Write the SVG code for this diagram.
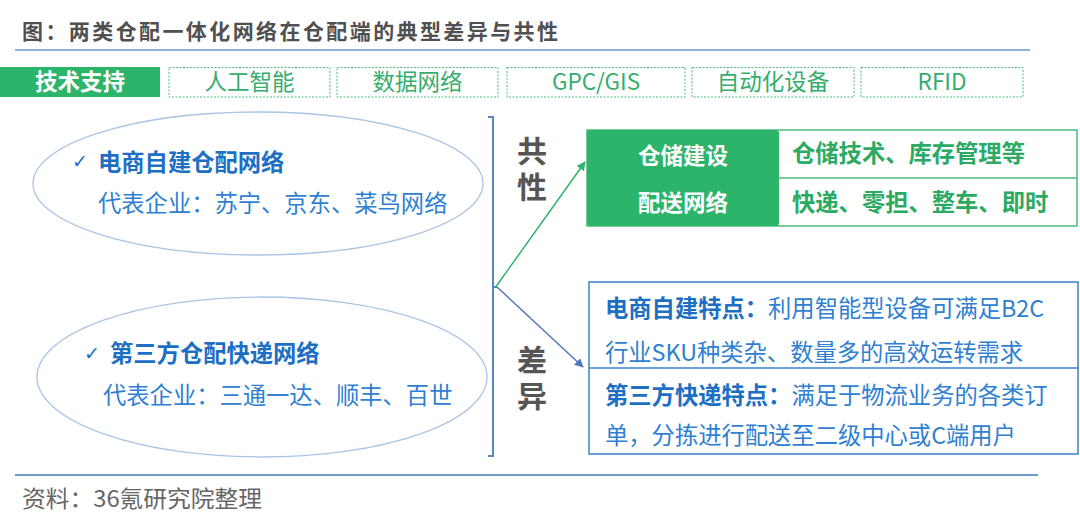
<svg xmlns="http://www.w3.org/2000/svg" width="1080" height="527" viewBox="0 0 1080 527">
<defs>
<style>
text{font-family:"Noto Sans CJK SC","Noto Sans",sans-serif;}
.title{font-size:21px;font-weight:bold;fill:#505050;}
.tech{font-size:22.5px;fill:#35ad6c;text-anchor:middle;}
.dash{fill:#fff;stroke:#4dba7f;stroke-width:1;stroke-dasharray:2 1.5;}
.ell{fill:none;stroke:#a9c5e6;stroke-width:1.3;}
.hb{font-size:23.3px;font-weight:bold;fill:#1d6fc4;}
.hn{font-size:23.3px;fill:#2f7fd2;}
.chk{font-family:"DejaVu Sans",sans-serif;font-size:19px;font-weight:bold;fill:#1d6fc4;}
.big{font-size:30px;font-weight:bold;fill:#555;writing-mode:vertical-rl;letter-spacing:6px;}
.wt{font-size:22.5px;font-weight:bold;fill:#fff;text-anchor:middle;}
.gt{font-size:23.3px;font-weight:bold;fill:#2aaa62;}
.line{stroke-width:1.5;fill:none;}
</style>
<marker id="ag" viewBox="0 0 10 10" refX="9" refY="5" markerWidth="9" markerHeight="9" markerUnits="userSpaceOnUse" orient="auto"><path d="M0,0 L10,5 L0,10 z" fill="#2fb36b"/></marker>
<marker id="ab" viewBox="0 0 10 10" refX="9" refY="5" markerWidth="9" markerHeight="9" markerUnits="userSpaceOnUse" orient="auto"><path d="M0,0 L10,5 L0,10 z" fill="#5577bb"/></marker>
</defs>
<rect width="1080" height="527" fill="#fff"/>

<g id="title">
<text class="title" x="22" y="39" textLength="536" lengthAdjust="spacing">图：两类仓配一体化网络在仓配端的典型差异与共性</text>
<line x1="15" y1="50" x2="1030" y2="50" stroke="#6a9bc9" stroke-width="1.5"/>
</g>

<g id="tech-support">
<rect x="0" y="67" width="160" height="30" fill="#2db46b"/>
<text x="80" y="90" text-anchor="middle" style="font-size:22.5px;font-weight:bold;fill:#fff">技术支持</text>
</g>
<g id="tech-ai"><rect class="dash" x="169" y="67.5" width="161" height="29.5"/><text class="tech" x="249.5" y="90">人工智能</text></g>
<g id="tech-data"><rect class="dash" x="337" y="67.5" width="161" height="29.5"/><text class="tech" x="417.5" y="90">数据网络</text></g>
<g id="tech-gis"><rect class="dash" x="507" y="67.5" width="178" height="29.5"/><text class="tech" x="596" y="90">GPC/GIS</text></g>
<g id="tech-auto"><rect class="dash" x="692" y="67.5" width="162" height="29.5"/><text class="tech" x="773" y="90">自动化设备</text></g>
<g id="tech-rfid"><rect class="dash" x="861" y="67.5" width="162" height="29.5"/><text class="tech" x="942" y="90">RFID</text></g>

<g id="ecommerce">
<ellipse class="ell" cx="258" cy="183.5" rx="225" ry="71.5"/>
<text class="chk" x="72" y="168">✓</text>
<text class="hb" x="98" y="171">电商自建仓配网络</text>
<text class="hn" x="98" y="212">代表企业：苏宁、京东、菜鸟网络</text>
</g>

<g id="thirdparty">
<ellipse class="ell" cx="262" cy="377" rx="225" ry="80"/>
<text class="chk" x="84" y="360">✓</text>
<text class="hb" x="110" y="362">第三方仓配快递网络</text>
<text class="hn" x="103" y="404">代表企业：三通一达、顺丰、百世</text>
</g>

<g id="bracket">
<path d="M488,117 H493 V456 H488 M493,287 H497" fill="none" stroke="#5b86c4" stroke-width="2"/>
</g>

<g id="common-label">
<text class="big" x="532" y="136">共性</text>
</g>
<g id="diff-label">
<text class="big" x="532" y="345">差异</text>
</g>

<g id="common-table">
<rect x="587" y="130" width="490" height="96" fill="#fff" stroke="#4dba7f" stroke-width="1.5"/>
<rect x="587" y="130" width="192" height="96" rx="3" fill="#2db46b"/>
<line x1="779" y1="178" x2="1077" y2="178" stroke="#4dba7f" stroke-width="1.5"/>
<text class="wt" x="683" y="164">仓储建设</text>
<text class="wt" x="683" y="211">配送网络</text>
<text class="gt" x="792" y="162">仓储技术、库存管理等</text>
<text class="gt" x="792" y="211">快递、零担、整车、即时</text>
</g>

<g id="diff-table">
<rect x="589" y="282" width="489" height="172" fill="#fff" stroke="#3a82c8" stroke-width="1.5"/>
<line x1="589" y1="368" x2="1078" y2="368" stroke="#3a82c8" stroke-width="1.5"/>
<text x="605" y="317" class="hn"><tspan class="hb">电商自建特点：</tspan>利用智能型设备可满足B2C</text>
<text x="605" y="361" class="hn">行业SKU种类杂、数量多的高效运转需求</text>
<text x="605" y="404" class="hn"><tspan class="hb">第三方快递特点：</tspan>满足于物流业务的各类订</text>
<text x="605" y="444" class="hn">单，分拣进行配送至二级中心或C端用户</text>
</g>

<g id="connectors">
<line class="line" x1="495" y1="288" x2="585" y2="162" stroke="#2fb36b" marker-end="url(#ag)"/>
<line class="line" x1="497" y1="287" x2="583" y2="367" stroke="#5577bb" marker-end="url(#ab)"/>
</g>

<g id="footer">
<line x1="15" y1="475" x2="1038" y2="475" stroke="#6a9bc9" stroke-width="2"/>
<text x="22" y="507" textLength="240" lengthAdjust="spacingAndGlyphs" style="font-size:23px;fill:#666">资料：36氪研究院整理</text>
</g>
</svg>
